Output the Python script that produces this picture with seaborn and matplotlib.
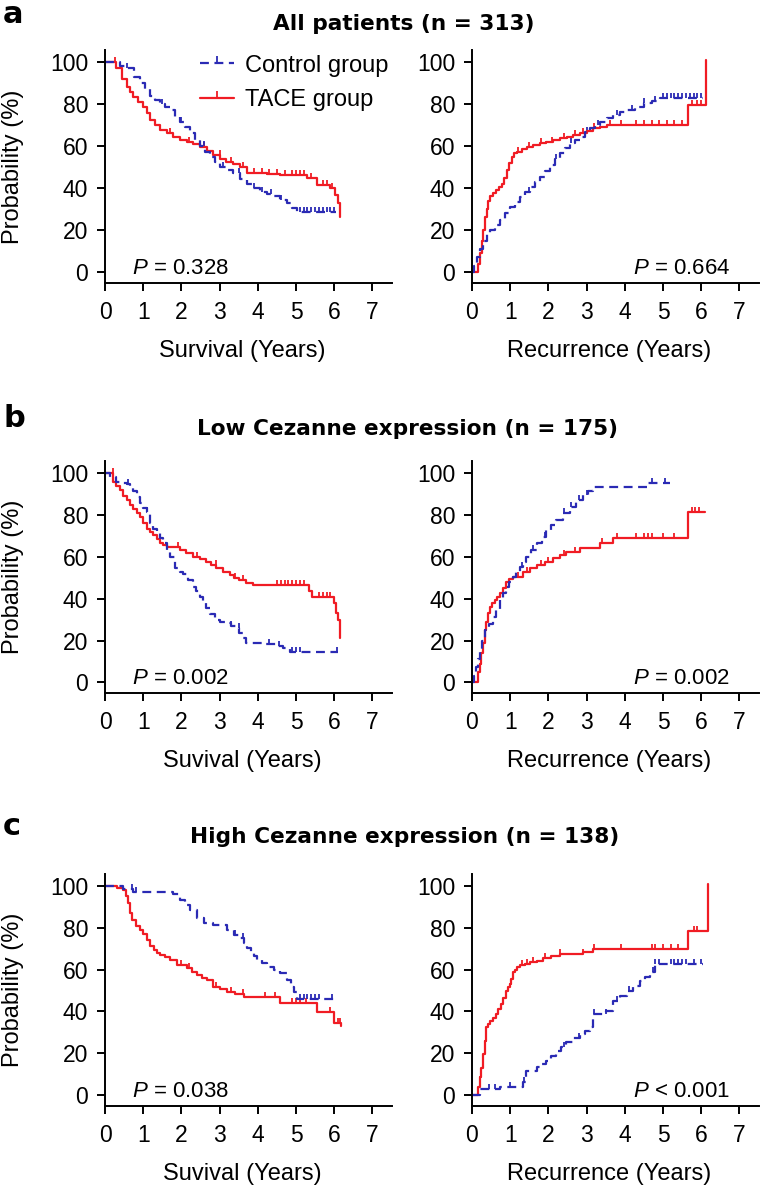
import numpy as np
import pandas as pd
import matplotlib
matplotlib.use('Agg')
import matplotlib.pyplot as plt
from matplotlib.lines import Line2D
from matplotlib import font_manager
import seaborn as sns

# Style: plain ticks, black axes
sns.set_style("ticks", {'axes.edgecolor': 'black', 'xtick.color': 'black',
                        'ytick.color': 'black', 'text.color': 'black',
                        'axes.labelcolor': 'black'})

names = {f.name for f in font_manager.fontManager.ttflist}
NARROW = 'Liberation Sans Narrow' if 'Liberation Sans Narrow' in names else 'Liberation Sans'
plt.rcParams['font.family'] = [NARROW, 'DejaVu Sans']
plt.rcParams['mathtext.fontset'] = 'custom'
plt.rcParams['mathtext.rm'] = NARROW
plt.rcParams['mathtext.it'] = NARROW + ':italic'

RED = '#f01c24'
BLUE = '#2a2ab4'

# ---------------- data ----------------
# panel a, survival
a_surv_ctrl_t = [0, 0.40, 0.57, 0.75, 0.92, 1.05, 1.18, 1.31, 1.44, 1.57, 1.70, 1.83, 1.96, 2.10,
                 2.23, 2.36, 2.49, 2.62, 2.75, 2.88, 3.01, 3.18, 3.36, 3.53, 3.71, 3.88, 4.06, 4.23,
                 4.41, 4.58, 4.76, 4.90, 5.02, 6.06]
a_surv_ctrl_s = [100, 98, 97, 93, 90, 87, 84, 82, 80, 78.5, 77, 74, 71.5, 69, 66, 63, 60, 57, 55,
                 52.5, 50, 48.5, 47, 44.5, 42, 40, 38.3, 37, 36, 34.5, 32.7, 30.5, 28.5, 28.5]
a_surv_ctrl_c = [0.58, 1.5, 2.0, 2.6, 3.1, 3.5, 3.9, 4.1, 4.35, 4.6, 5.1, 5.2, 5.3, 5.4, 5.5,
                 5.6, 5.7, 5.8, 5.9, 6.0]
a_surv_tace_t = [0, 0.30, 0.44, 0.57, 0.66, 0.74, 0.87, 1.00, 1.09, 1.18, 1.31, 1.44, 1.61, 1.79,
                 1.96, 2.14, 2.31, 2.49, 2.66, 2.84, 3.01, 3.18, 3.36, 3.53, 3.71, 4.23, 4.58, 5.28,
                 5.54, 5.89, 6.02, 6.10, 6.15]
a_surv_tace_s = [100, 97, 92, 88, 85.5, 83.5, 81, 78.7, 75.5, 72.4, 70, 67.6, 66, 64.4, 63, 62, 61,
                 59.7, 57.5, 55.7, 54, 52.5, 51.3, 50.2, 47, 46.5, 46, 44.6, 41.4, 39.8, 36.7, 32.7, 26]
a_surv_tace_c = [0.25, 1.7, 2.2, 2.6, 3.0, 3.3, 3.6, 3.9, 4.1, 4.3, 4.5, 4.7, 4.9, 5.0, 5.1, 5.2,
                 5.4, 5.7, 5.8, 5.95]

# panel a, recurrence
a_rec_ctrl_t = [0, 0.05, 0.12, 0.20, 0.30, 0.40, 0.47, 0.60, 0.73, 0.86, 1.00, 1.13, 1.26, 1.39,
                1.52, 1.65, 1.78, 1.91, 2.04, 2.17, 2.30, 2.44, 2.57, 2.70, 2.83, 2.96, 3.09, 3.22,
                3.35, 3.53, 3.70, 3.88, 4.05, 4.27, 4.49, 4.70, 4.92, 6.06]
a_rec_ctrl_s = [0, 3, 7.3, 11, 15, 18, 20, 22.5, 24.8, 28, 31, 33.5, 35.9, 38, 40.6, 43, 45.4, 48,
                51, 54, 56.5, 59, 61.3, 63, 64.4, 66.5, 68.4, 70, 71.6, 73.2, 74.8, 76, 77.1, 78.7,
                80.3, 81.5, 82.7, 82.7]
a_rec_ctrl_c = [1.5, 2.2, 2.6, 3.0, 3.3, 3.8, 4.2, 4.5, 4.8, 5.0, 5.1, 5.2, 5.3, 5.4, 5.5, 5.6,
                5.7, 5.8, 5.9, 6.0]
a_rec_tace_t = [0, 0.17, 0.22, 0.26, 0.30, 0.34, 0.38, 0.43, 0.47, 0.55, 0.63, 0.70, 0.78, 0.85,
                0.91, 0.98, 1.04, 1.10, 1.17, 1.30, 1.43, 1.60, 1.78, 1.95, 2.13, 2.30, 2.48, 2.65,
                2.83, 3.00, 3.18, 3.35, 3.53, 5.66, 6.12]
a_rec_tace_s = [0, 4, 9, 15, 20, 26, 30, 34, 36, 37.5, 39, 40.5, 42, 45, 48.6, 52, 55, 56.5, 57.3,
                58.5, 59.7, 60.5, 61.3, 62, 62.9, 63.6, 64.4, 65.2, 66, 67.2, 68.4, 69.2, 70, 79.5, 101]
a_rec_tace_c = [1.2, 1.5, 1.8, 2.1, 2.4, 2.7, 2.9, 3.2, 3.6, 3.9, 4.3, 4.5, 4.7, 4.9, 5.1, 5.3,
                5.5, 5.75, 5.9, 6.0]

# panel b, survival
b_surv_ctrl_t = [0, 0.13, 0.30, 0.45, 0.57, 0.66, 0.74, 0.83, 0.91, 1.00, 1.09, 1.17, 1.26, 1.35,
                 1.43, 1.52, 1.61, 1.70, 1.83, 1.96, 2.04, 2.17, 2.30, 2.39, 2.48, 2.57, 2.65, 2.76,
                 2.87, 3.02, 3.17, 3.30, 3.43, 3.52, 3.60, 3.70, 4.20, 4.48, 4.65, 4.83, 6.09]
b_surv_ctrl_s = [100, 98, 96, 95.5, 95, 93, 91.5, 88.5, 85.6, 83.5, 81.7, 76, 73.5, 71.3, 69, 66.5,
                 63.5, 60.2, 54.5, 53, 52, 49, 45.7, 43.5, 41, 38.5, 35.4, 32.5, 29.8, 29, 28.2, 27,
                 25.8, 23.5, 21, 19, 18.2, 17.5, 16.3, 14.7, 14.7]
b_surv_ctrl_c = [0.6, 1.1, 3.3, 3.5, 4.3, 4.55, 4.9, 5.0, 5.1, 6.08]
b_surv_tace_t = [0, 0.22, 0.30, 0.39, 0.48, 0.57, 0.66, 0.74, 0.83, 0.91, 1.00, 1.09, 1.17, 1.26,
                 1.35, 1.43, 1.52, 1.61, 1.96, 2.13, 2.30, 2.48, 2.65, 2.78, 2.91, 3.08, 3.26, 3.39,
                 3.52, 3.70, 3.87, 5.35, 5.43, 6.00, 6.04, 6.10, 6.15]
b_surv_tace_s = [100, 96, 94, 92, 89, 87, 85, 83, 81, 79, 76, 73.5, 72, 70.4, 68.5, 66.5, 65.5,
                 64.9, 63.3, 62, 60.2, 59, 57.7, 56, 54.5, 53, 51.3, 50, 48.9, 47.5, 46.6, 43.5, 41,
                 38, 33, 29.8, 21]
b_surv_tace_c = [0.2, 1.9, 2.4, 2.9, 3.4, 3.6, 4.5, 4.6, 4.7, 4.8, 4.9, 5.0, 5.1, 5.2, 5.6, 5.7,
                 5.8, 5.9]

# panel b, recurrence
b_rec_ctrl_t = [0, 0.06, 0.11, 0.16, 0.20, 0.26, 0.33, 0.44, 0.55, 0.64, 0.73, 0.81, 0.90, 0.98,
                1.07, 1.16, 1.25, 1.33, 1.42, 1.55, 1.69, 1.82, 1.95, 2.08, 2.21, 2.38, 2.56, 2.73,
                2.91, 3.04, 3.17, 4.62, 5.18]
b_rec_ctrl_s = [0, 3, 7.5, 11, 15.5, 20, 25, 28, 31.4, 35, 39.4, 42.5, 45.8, 48, 50.6, 53, 55.3,
                57.5, 60.1, 63.5, 66.5, 69.5, 72.9, 75.5, 77.7, 81, 84, 87, 89.6, 91.5, 93.6, 95.2,
                95.2]
b_rec_ctrl_c = [1.3, 1.6, 1.9, 2.4, 2.6, 2.8, 3.0, 4.7, 5.05]
b_rec_tace_t = [0, 0.16, 0.20, 0.24, 0.28, 0.33, 0.37, 0.42, 0.46, 0.52, 0.59, 0.66, 0.73, 0.81,
                0.90, 0.98, 1.07, 1.34, 1.52, 1.69, 1.90, 2.12, 2.30, 2.47, 2.82, 3.35, 3.70, 5.66,
                6.10]
b_rec_tace_s = [0, 5, 9, 13.9, 19, 25, 29, 33, 36.2, 38, 39.4, 41, 42.6, 45, 48.2, 49.5, 50.6, 53,
                54.5, 56.1, 57.7, 59.3, 61, 62.5, 64.1, 66.5, 68.9, 81.7, 81.7]
b_rec_tace_c = [1.2, 1.45, 1.8, 2.0, 2.4, 2.7, 3.4, 3.8, 4.3, 4.5, 4.6, 4.7, 5.0, 5.3, 5.75, 5.85,
                5.95]

# panel c, survival
c_surv_ctrl_t = [0, 0.48, 0.74, 1.79, 1.97, 2.10, 2.23, 2.41, 2.58, 2.84, 3.19, 3.37, 3.50, 3.63,
                 3.72, 3.81, 3.90, 3.98, 4.11, 4.24, 4.42, 4.59, 4.77, 4.86, 4.95, 5.03, 5.99]
c_surv_ctrl_s = [100, 98.5, 97.3, 96, 93.3, 91, 88.5, 84.5, 82.1, 81.3, 79, 76.6, 75, 72.6, 70.5,
                 68.6, 66.5, 64.6, 63, 61.4, 59.8, 58.2, 55, 51.8, 49.5, 46, 46]
c_surv_ctrl_c = [0.7, 0.8, 3.4, 3.6, 5.1, 5.2, 5.3, 5.4, 5.5, 5.6, 5.95]
c_surv_tace_t = [0, 0.31, 0.48, 0.55, 0.61, 0.66, 0.70, 0.80, 0.92, 1.00, 1.09, 1.18, 1.27, 1.35,
                 1.44, 1.57, 1.71, 1.88, 2.14, 2.28, 2.41, 2.54, 2.67, 2.84, 3.02, 3.19, 3.40, 3.63,
                 4.59, 5.56, 5.99, 6.17]
c_surv_tace_s = [100, 99, 98, 95, 91.7, 87, 83.7, 81, 79, 77, 74.2, 71.5, 69.4, 68, 67, 65.8, 64.6,
                 62.2, 60.6, 59, 57.4, 56.2, 55, 51.8, 50.6, 49.4, 48.2, 47, 43.9, 39.9, 34.3, 33]
c_surv_tace_c = [2.0, 2.2, 2.9, 3.3, 3.6, 4.2, 4.45, 4.9, 5.0, 5.1, 5.25, 5.9, 6.1, 6.15]

# panel c, recurrence
c_rec_ctrl_t = [0, 0.20, 0.73, 1.33, 1.42, 1.69, 1.82, 1.95, 2.08, 2.21, 2.34, 2.47, 2.64, 2.82,
                2.96, 3.09, 3.17, 3.52, 3.70, 3.88, 4.05, 4.22, 4.40, 4.53, 4.66, 4.79, 6.06]
c_rec_ctrl_s = [0, 3, 4, 6, 11.6, 13.2, 14.8, 16.4, 18.8, 21.2, 23.2, 25.2, 27.2, 29.1, 30.7, 32.3,
                38.7, 40.3, 45.1, 47.5, 49.8, 52.2, 54.6, 56.6, 58.6, 62.6, 62.6]
c_rec_ctrl_c = [0.45, 0.6, 1.0, 1.35, 2.4, 2.8, 3.2, 3.5, 3.8, 4.1, 4.75, 4.8, 4.9, 5.2, 5.3, 5.4,
                5.5, 5.6, 5.8, 6.0]
c_rec_tace_t = [0, 0.16, 0.20, 0.24, 0.28, 0.33, 0.37, 0.42, 0.48, 0.55, 0.62, 0.68, 0.75, 0.81,
                0.88, 0.94, 0.99, 1.03, 1.08, 1.12, 1.18, 1.25, 1.38, 1.51, 1.69, 1.86, 2.08, 2.30,
                2.91, 3.17, 5.66, 6.19]
c_rec_tace_s = [0, 4, 8.4, 13, 19.6, 26, 32.3, 34, 35.5, 37, 38.7, 41, 43.5, 46.5, 49.8, 51.5, 53,
                55.5, 58.6, 60, 61, 62, 62.6, 63.4, 64.2, 65.4, 66.6, 67.4, 68.2, 69.7, 78.5, 101]
c_rec_tace_c = [1.3, 1.45, 1.6, 1.9, 2.3, 2.9, 3.2, 3.9, 4.7, 4.8, 5.0, 5.2, 5.4, 5.8, 5.9]

titles = ['All patients (n = 313)', 'Low Cezanne expression (n = 175)',
          'High Cezanne expression (n = 138)']
letters = ['a', 'b', 'c']
surv_labels = ['Survival (Years)', 'Suvival (Years)', 'Suvival (Years)']
rec_label = 'Recurrence (Years)'
p_surv = [r'$\mathit{P}$ = 0.328', r'$\mathit{P}$ = 0.002', r'$\mathit{P}$ = 0.038']
p_rec = [r'$\mathit{P}$ = 0.664', r'$\mathit{P}$ = 0.002', r'$\mathit{P}$ < 0.001']
legend_labels = ['Control group', 'TACE group']

panels = [
    [(a_surv_ctrl_t, a_surv_ctrl_s, a_surv_ctrl_c, a_surv_tace_t, a_surv_tace_s, a_surv_tace_c),
     (a_rec_ctrl_t, a_rec_ctrl_s, a_rec_ctrl_c, a_rec_tace_t, a_rec_tace_s, a_rec_tace_c)],
    [(b_surv_ctrl_t, b_surv_ctrl_s, b_surv_ctrl_c, b_surv_tace_t, b_surv_tace_s, b_surv_tace_c),
     (b_rec_ctrl_t, b_rec_ctrl_s, b_rec_ctrl_c, b_rec_tace_t, b_rec_tace_s, b_rec_tace_c)],
    [(c_surv_ctrl_t, c_surv_ctrl_s, c_surv_ctrl_c, c_surv_tace_t, c_surv_tace_s, c_surv_tace_c),
     (c_rec_ctrl_t, c_rec_ctrl_s, c_rec_ctrl_c, c_rec_tace_t, c_rec_tace_s, c_rec_tace_c)],
]

# ---------------- layout ----------------
W, H = 764, 1190
fig = plt.figure(figsize=(W / 100, H / 100), dpi=100)

def box(l, t, r, b):
    return [l / W, 1 - b / H, (r - l) / W, (b - t) / H]

cols = [(105, 391.5), (472, 758.5)]
rows = [(50, 283), (461.4, 693.2), (874, 1105.9)]
title_pos = [(404, 30), (407.5, 435), (404.5, 843)]
letter_base = [23, 427, 835]

DASH = (0, (4, 2.5))
TICK_FS = 16.5
LABEL_FS = 17
P_FS = 16


def km(ax, t, s, cens, color, dashed):
    df = pd.DataFrame({'t': t, 's': s})
    sns.lineplot(data=df, x='t', y='s', ax=ax, color=color, lw=1.6, drawstyle='steps-post',
                 estimator=None, sort=False, legend=False,
                 linestyle=DASH if dashed else '-')
    t = np.asarray(t)
    s = np.asarray(s)
    idx = np.searchsorted(t, cens, side='right') - 1
    cdf = pd.DataFrame({'t': cens, 's': s[idx]})
    sns.scatterplot(data=cdf, x='t', y='s', ax=ax, marker=2, s=14, color=color,
                    linewidth=1.3, legend=False)


for r, (top, bot) in enumerate(rows):
    for c, (left, right) in enumerate(cols):
        ax = fig.add_axes(box(left, top, right, bot))
        ct, cs, cc, tt, ts, tc = panels[r][c]
        km(ax, tt, ts, tc, RED, False)
        km(ax, ct, cs, cc, BLUE, True)

        ax.set_xlim(0, 7.5)
        ax.set_ylim(-5.2, 105.7)
        ax.set_xticks(range(8))
        ax.set_yticks(range(0, 101, 20))
        sns.despine(ax=ax)
        for sp in ['left', 'bottom']:
            ax.spines[sp].set_linewidth(1.4)
        ax.tick_params(length=6, width=1.4, labelsize=TICK_FS, direction='out')
        ax.tick_params(axis='y', pad=6)
        ax.tick_params(axis='x', pad=7)

        ax.set_xlabel(surv_labels[r] if c == 0 else rec_label, fontsize=LABEL_FS)
        ax.xaxis.label.set_verticalalignment('baseline')
        ax.xaxis.set_label_coords(0.478, -74 / 232)
        if c == 0:
            ax.set_ylabel('Probability (%)', fontsize=LABEL_FS)
            ax.yaxis.label.set_verticalalignment('center')
            ax.yaxis.set_label_coords(-92 / 286.5, 0.5)
            ax.text(0.71, -0.8, p_surv[r], ha='left', va='baseline', fontsize=P_FS)
        else:
            ax.set_ylabel('')
            ax.text(6.75, -0.8, p_rec[r], ha='right', va='baseline', fontsize=P_FS)

    fig.text(title_pos[r][0] / W, 1 - title_pos[r][1] / H, titles[r], ha='center',
             va='baseline', fontsize=15.6, fontweight='bold', family='DejaVu Sans')
    fig.text(3 / W, 1 - letter_base[r] / H, letters[r], ha='left', va='baseline',
             fontsize=22, fontweight='bold', family='DejaVu Sans')

handles = [Line2D([], [], color=BLUE, lw=1.6, ls=DASH, marker=2, markersize=5,
                  markeredgewidth=1.3),
           Line2D([], [], color=RED, lw=1.6, marker=2, markersize=5, markeredgewidth=1.3)]
fig.legend(handles, legend_labels, loc='center left', bbox_to_anchor=(200 / W, 1 - 83 / H),
           frameon=False, fontsize=17, handlelength=1.45, handletextpad=0.45,
           labelspacing=0.55, borderpad=0, borderaxespad=0)

fig.savefig('out.png', dpi=100)
